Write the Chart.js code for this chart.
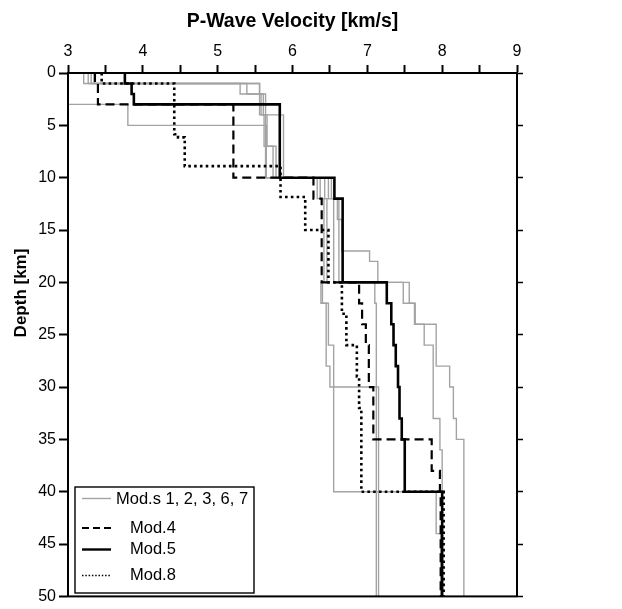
<!DOCTYPE html>
<html>
<head>
<meta charset="utf-8">
<script src="https://cdn.jsdelivr.net/npm/chart.js@4.4.1/dist/chart.umd.min.js"></script>
<style>
  html, body { margin: 0; padding: 0; background: #fff; }
  #wrap { width: 622px; height: 609px; }
</style>
</head>
<body>
<div id="wrap"><canvas id="c" width="622" height="609"></canvas></div>
<script>
// Layer boundaries (km) and the P-wave velocity of each layer (km/s).
// Each velocity array has one entry fewer than its depth array.
const mod1Depth = [0, 3, 5, 10, 12, 20, 22, 28, 30, 50];
const mod1Vp    = [3.00, 3.80, 5.65, 6.33, 6.42, 6.38, 6.45, 6.50, 7.15];

const mod2Depth = [0, 1, 4, 7, 10, 12, 20, 22, 50];
const mod2Vp    = [3.21, 5.56, 5.62, 5.74, 6.48, 6.55, 7.10, 7.12];

const mod3Depth = [0, 1, 2, 4, 10, 12, 14, 17, 18, 20, 22, 24, 28, 30, 33, 35, 50];
const mod3Vp    = [3.27, 5.30, 5.58, 5.88, 6.52, 6.60, 6.66, 7.03, 7.14, 7.56, 7.63, 7.92, 8.10, 8.15, 8.19, 8.29];

const mod6Depth = [0, 1, 2, 4, 10, 12, 20, 22, 26, 40, 44, 50];
const mod6Vp    = [3.31, 5.39, 5.61, 5.64, 6.37, 6.46, 6.40, 6.48, 6.55, 7.92, 7.98];

const mod7Depth = [0, 1, 2, 4, 7, 10, 12, 20, 22, 24, 26, 33, 36, 50];
const mod7Vp    = [3.35, 5.56, 5.64, 5.66, 5.78, 6.43, 6.62, 7.48, 7.64, 7.76, 7.88, 7.97, 8.00];

const mod4Depth = [0, 1, 3, 10, 12, 20, 22, 24, 26, 30, 35, 38, 40, 50];
const mod4Vp    = [3.36, 3.40, 5.21, 6.28, 6.39, 6.89, 6.93, 6.98, 7.02, 7.08, 7.86, 7.97, 7.98];

const mod5Depth = [0, 1, 2, 3, 10, 12, 20, 22, 24, 26, 28, 30, 33, 35, 40, 50];
const mod5Vp    = [3.76, 3.85, 3.88, 5.83, 6.56, 6.67, 7.26, 7.32, 7.35, 7.38, 7.41, 7.43, 7.46, 7.50, 8.00];

const mod8Depth = [0, 1, 5.85, 6.15, 8.9, 11.85, 15, 20, 23, 26, 29, 32, 40, 50];
const mod8Vp    = [3.45, 4.42, 4.47, 4.56, 5.84, 6.17, 6.48, 6.66, 6.72, 6.86, 6.89, 6.92, 8.02];

const velocityTicks = [3, 4, 5, 6, 7, 8, 9];
const depthTicks = [0, 5, 10, 15, 20, 25, 30, 35, 40, 45, 50];
const legendLabels = ['Mod.s 1, 2, 3, 6, 7', 'Mod.4', 'Mod.5', 'Mod.8'];

// Turn a layered model into the corner points of its step profile.
function profile(depths, vps) {
  const pts = [];
  for (let i = 0; i < vps.length; i++) {
    pts.push({ x: vps[i], y: depths[i] });
    pts.push({ x: vps[i], y: depths[i + 1] });
  }
  return pts;
}

const GRAY = '#a3a3a3';
const FONT = "'Liberation Sans Narrow', 'Liberation Sans', Arial, sans-serif";
const BOLD = "'Liberation Sans', Arial, sans-serif";

const grayStyle = { borderColor: GRAY, borderWidth: 1.4, order: 10 };
const styles = {
  mod4: { borderColor: '#000', borderWidth: 2.2, borderDash: [9, 5], order: 2 },
  mod5: { borderColor: '#000', borderWidth: 2.6, order: 1 },
  mod8: { borderColor: '#000', borderWidth: 2.6, borderDash: [2.6, 3.2], order: 3 }
};

function ds(label, depths, vps, style) {
  return Object.assign({
    label: label,
    data: profile(depths, vps),
    showLine: true,
    pointRadius: 0,
    tension: 0,
    fill: false,
    borderCapStyle: 'butt',
    borderJoinStyle: 'miter',
    yAxisID: 'y'
  }, style);
}

const datasets = [
  ds('Mod.1', mod1Depth, mod1Vp, grayStyle),
  ds('Mod.2', mod2Depth, mod2Vp, grayStyle),
  ds('Mod.3', mod3Depth, mod3Vp, grayStyle),
  ds('Mod.6', mod6Depth, mod6Vp, grayStyle),
  ds('Mod.7', mod7Depth, mod7Vp, grayStyle),
  ds('Mod.4', mod4Depth, mod4Vp, styles.mod4),
  ds('Mod.5', mod5Depth, mod5Vp, styles.mod5),
  ds('Mod.8', mod8Depth, mod8Vp, styles.mod8)
];

// Frame, inset legend and the depth-axis title.
const decorations = {
  id: 'decorations',
  afterDatasetsDraw(chart) {
    const ctx = chart.ctx;
    const a = chart.chartArea;
    ctx.save();
    ctx.strokeStyle = '#000';
    ctx.lineWidth = 2;
    ctx.strokeRect(a.left, a.top, a.right - a.left, a.bottom - a.top);

    // legend box
    const bx = 75, by = 487, bw = 179, bh = 106;
    ctx.fillStyle = '#fff';
    ctx.fillRect(bx, by, bw, bh);
    ctx.lineWidth = 1.4;
    ctx.strokeRect(bx, by, bw, bh);

    const rows = [
      { y: 498.5, ty: 499, tx: 116, style: { color: GRAY, width: 1.4, dash: [] } },
      { y: 528, ty: 528, tx: 130, style: { color: '#000', width: 1.8, dash: [7, 4] } },
      { y: 549.5, ty: 549.5, tx: 130, style: { color: '#000', width: 2.4, dash: [] } },
      { y: 575.5, ty: 575, tx: 130, style: { color: '#000', width: 1.5, dash: [1.5, 1.8] } }
    ];
    ctx.font = "16.5px " + BOLD;
    ctx.textBaseline = 'middle';
    ctx.textAlign = 'left';
    rows.forEach((r, i) => {
      ctx.beginPath();
      ctx.strokeStyle = r.style.color;
      ctx.lineWidth = r.style.width;
      ctx.setLineDash(r.style.dash);
      ctx.moveTo(82, r.y);
      ctx.lineTo(111, r.y);
      ctx.stroke();
      ctx.setLineDash([]);
      ctx.fillStyle = '#000';
      ctx.fillText(legendLabels[i], r.tx, r.ty);
    });

    // depth axis title
    ctx.translate(21, 293);
    ctx.rotate(-Math.PI / 2);
    ctx.font = "bold 17px " + BOLD;
    ctx.textAlign = 'center';
    ctx.textBaseline = 'middle';
    ctx.fillStyle = '#000';
    ctx.fillText('Depth [km]', 0, 0);
    ctx.restore();
  }
};

new Chart(document.getElementById('c'), {
  type: 'scatter',
  data: { datasets: datasets },
  plugins: [decorations],
  options: {
    responsive: false,
    animation: false,
    devicePixelRatio: 1,
    layout: { padding: { left: 0, top: 0, right: 0, bottom: 7 } },
    plugins: { legend: { display: false }, tooltip: { enabled: false } },
    scales: {
      x: {
        type: 'linear',
        position: 'top',
        min: velocityTicks[0],
        max: velocityTicks[velocityTicks.length - 1],
        afterFit: (s) => { s.height = 73; },
        ticks: {
          stepSize: 0.5,
          autoSkip: false,
          maxRotation: 0,
          padding: 4,
          color: '#000',
          font: { family: FONT, size: 16 },
          callback: (v) => velocityTicks.includes(v) ? String(v) : ''
        },
        grid: { drawOnChartArea: false, drawTicks: true, tickLength: 8, tickWidth: 2, tickColor: '#000' },
        border: { display: true, color: '#000', width: 2 },
        title: {
          display: true,
          text: 'P-Wave Velocity [km/s]',
          color: '#000',
          font: { family: BOLD, size: 19.5, weight: 'bold' },
          padding: { top: 10, bottom: 0 }
        }
      },
      y: {
        type: 'linear',
        position: 'left',
        reverse: true,
        min: depthTicks[0],
        max: depthTicks[depthTicks.length - 1],
        afterFit: (s) => { s.width = 68; },
        ticks: {
          stepSize: 5,
          autoSkip: false,
          padding: 3,
          color: '#000',
          font: { family: FONT, size: 16 },
          callback: (v) => depthTicks.includes(v) ? String(v) : ''
        },
        grid: { drawOnChartArea: false, drawTicks: true, tickLength: 9, tickWidth: 2, tickColor: '#000' },
        border: { display: true, color: '#000', width: 2 }
      },
      y2: {
        type: 'linear',
        position: 'right',
        reverse: true,
        min: depthTicks[0],
        max: depthTicks[depthTicks.length - 1],
        afterFit: (s) => { s.width = 105; },
        ticks: { stepSize: 5, display: false },
        grid: { drawOnChartArea: false, drawTicks: true, tickLength: 6, tickWidth: 1.5, tickColor: '#000' },
        border: { display: true, color: '#000', width: 2 }
      }
    }
  }
});
</script>
</body>
</html>
